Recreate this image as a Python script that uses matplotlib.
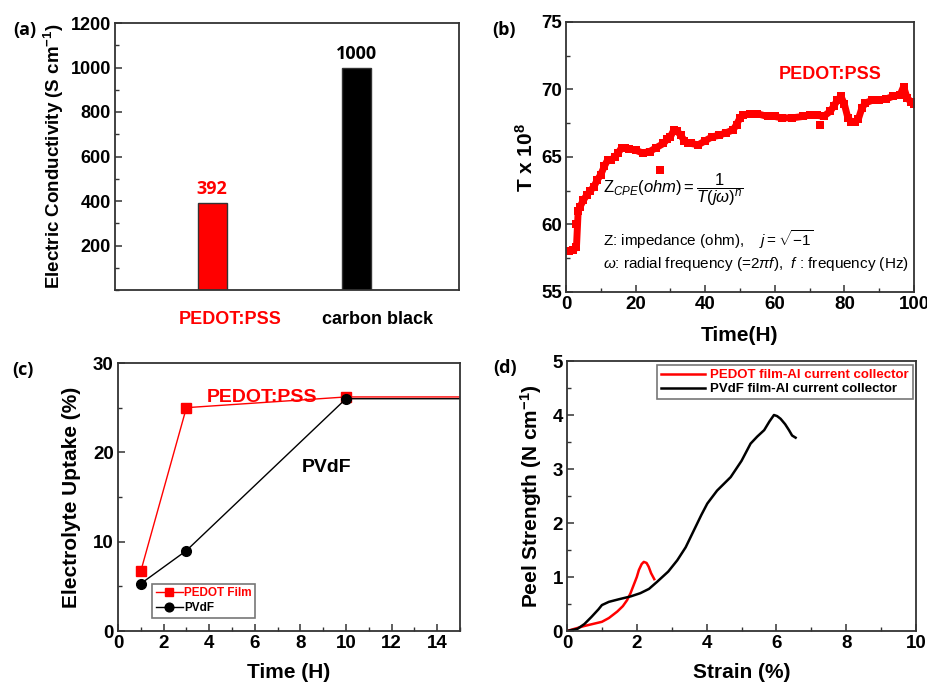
import matplotlib
matplotlib.use("Agg")
import matplotlib.pyplot as plt
from matplotlib.ticker import MultipleLocator

plt.rcParams['font.family'] = ['Liberation Sans', 'DejaVu Sans']
plt.rcParams['font.weight'] = 'bold'
plt.rcParams['axes.labelweight'] = 'bold'
plt.rcParams['mathtext.fontset'] = 'custom'
plt.rcParams['mathtext.rm'] = 'Liberation Sans:normal'
plt.rcParams['mathtext.it'] = 'Liberation Sans:italic:normal'
plt.rcParams['mathtext.bf'] = 'Liberation Sans:bold'

# (a) conductivity
materials = ["PEDOT:PSS", "carbon black"]
conductivity = [392, 1000]
bar_colors = ["#ff0000", "#000000"]

# (b) T x 10^8 vs time
time_b = [0, 1, 2, 3, 3.5, 4, 5, 6, 7, 8, 9, 10, 11, 12, 13, 14, 15, 16, 17, 18,
          20, 22, 24, 26, 28, 29, 30, 31, 32, 33, 34, 35, 36, 38, 40, 42, 44, 46,
          48, 49, 50, 51, 53, 55, 58, 60, 62, 65, 68, 70, 72, 74, 76, 77, 78, 79,
          80, 81, 82, 83, 84, 85, 86, 88, 90, 92, 94, 96, 97, 98, 99, 100]
t_b = [58.0, 58.0, 58.1, 58.3, 61.0, 61.3, 61.8, 62.2, 62.5, 62.8, 63.3, 63.7, 64.3, 64.8,
       64.8, 65.0, 65.3, 65.7, 65.7, 65.6, 65.5, 65.3, 65.4, 65.7, 66.0, 66.3, 66.5, 67.0,
       66.9, 66.6, 66.2, 66.0, 66.0, 65.9, 66.2, 66.5, 66.6, 66.8, 67.0, 67.4, 67.9, 68.1,
       68.2, 68.2, 68.0, 68.0, 67.9, 67.9, 68.0, 68.1, 68.1, 68.0, 68.4, 68.8, 69.2, 69.5,
       68.9, 67.9, 67.6, 67.6, 67.8, 68.6, 69.0, 69.2, 69.2, 69.3, 69.5, 69.6, 70.2, 69.4,
       69.1, 68.9]
time_b_out = [3, 27, 73]
t_b_out = [60.0, 64.0, 67.4]

# (c) electrolyte uptake
time_c = [1, 3, 10, 24]
uptake_pedot = [6.7, 25.0, 26.2, 26.2]
uptake_pvdf = [5.3, 9.0, 26.0, 26.0]

# (d) peel strength
strain_pvdf = [0, 0.3, 0.5, 0.7, 0.9, 1.0, 1.2, 1.5, 1.82, 2.1, 2.35, 2.58, 2.9, 3.16, 3.4,
               3.64, 3.85, 4.02, 4.3, 4.69, 5.0, 5.26, 5.45, 5.65, 5.8, 5.93, 6.02, 6.12,
               6.25, 6.36, 6.45, 6.55]
peel_pvdf = [0, 0.04, 0.13, 0.26, 0.4, 0.48, 0.54, 0.59, 0.64, 0.7, 0.78, 0.91, 1.1, 1.31,
             1.55, 1.87, 2.15, 2.36, 2.6, 2.85, 3.15, 3.47, 3.6, 3.72, 3.88, 4.0, 3.98, 3.93,
             3.83, 3.72, 3.62, 3.58]
strain_pedot = [0, 0.48, 1.0, 1.2, 1.44, 1.6, 1.72, 1.82, 1.91, 2.0, 2.06, 2.14, 2.2, 2.28,
                2.34, 2.41, 2.5]
peel_pedot = [0, 0.09, 0.17, 0.24, 0.36, 0.46, 0.57, 0.7, 0.85, 1.0, 1.13, 1.24, 1.28, 1.26,
              1.19, 1.07, 0.96]

W, H = 928, 689
fig = plt.figure(figsize=(W / 100, H / 100), dpi=100)
KFONT = ['Open Sans', 'DejaVu Sans']


def add_ax(l, t, r, b):
    return fig.add_axes([l / W, 1 - b / H, (r - l) / W, (b - t) / H])


def style(ax, xt, yt, xminor, yminor, size=13):
    for s in ax.spines.values():
        s.set_color("#333333")
        s.set_linewidth(1.3)
    if xt is None:
        ax.set_xticks([])
    else:
        ax.set_xticks(xt, labels=[str(v) for v in xt])
    ax.set_yticks(yt, labels=[str(v) for v in yt])
    if xminor:
        ax.xaxis.set_minor_locator(MultipleLocator(xminor))
    ax.yaxis.set_minor_locator(MultipleLocator(yminor))
    ax.tick_params(which="both", direction="in", top=False, right=False, color="#333333")
    ax.tick_params(which="major", length=5, width=1.1, pad=3, labelsize=size)
    ax.tick_params(which="minor", length=3, width=1.0)


# ---------- (a) ----------
ax1 = add_ax(115, 23, 459, 290)
pos = [1, 2]
ax1.bar(pos, conductivity, width=0.2, color=bar_colors, edgecolor="#333333", linewidth=1)
ax1.set_xlim(0.33, 2.705)
ax1.set_ylim(0, 1200)
style(ax1, None, [200, 400, 600, 800, 1000, 1200], None, 100, 13)
ax1.set_ylabel("Electric Conductivity (S cm$^{\\mathbf{-1}}$)", fontsize=13.5, labelpad=3)
for p, v, c in zip(pos, conductivity, bar_colors):
    ax1.text(p, v + 22, str(v), ha="center", va="bottom", color=c, fontsize=13, family=KFONT)
for p, name, c in zip([1.124, 2.139], materials, bar_colors):
    ax1.text(p, -0.11, name, transform=ax1.get_xaxis_transform(), ha="center", va="center",
             color=c, fontsize=13)
fig.text(13 / W, 1 - 30 / H, "(a)", fontsize=13, family=KFONT, va="center")

# ---------- (b) ----------
ax2 = add_ax(566, 22, 914, 292)
ax2.plot(time_b, t_b, "s", color="#ff0000", markersize=5.5, markeredgewidth=0)
ax2.plot(time_b, t_b, "-", color="#ff0000", linewidth=5)
ax2.plot(time_b_out, t_b_out, "s", color="#ff0000", markersize=5.5, markeredgewidth=0)
ax2.set_xlim(0, 100)
ax2.set_ylim(55, 75)
style(ax2, [0, 20, 40, 60, 80, 100], [55, 60, 65, 70, 75], 10, 2.5, 13.5)
ax2.set_xlabel("Time(H)", fontsize=15, labelpad=9)
ax2.set_ylabel("T x 10$^{\\mathbf{8}}$", fontsize=15, labelpad=3)
ax2.text(0.76, 0.805, "PEDOT:PSS", transform=ax2.transAxes, ha="center", va="center",
         color="#ff0000", fontsize=13)
ax2.text(0.105, 0.38, r"$\mathrm{Z}_{CPE}(ohm)=\dfrac{1}{T(j\omega)^{n}}$", transform=ax2.transAxes,
         ha="left", va="center", fontsize=12, fontweight="normal")
ax2.text(0.105, 0.195, r"Z: impedance (ohm),    $j=\sqrt{-1}$", transform=ax2.transAxes,
         ha="left", va="center", fontsize=11, fontweight="normal")
ax2.text(0.105, 0.105, r"$\omega$: radial frequency (=2$\pi f$),  $f$ : frequency (Hz)",
         transform=ax2.transAxes, ha="left", va="center", fontsize=11, fontweight="normal")
fig.text(492 / W, 1 - 30 / H, "(b)", fontsize=13, family=KFONT, va="center")

# ---------- (c) ----------
ax3 = add_ax(118, 363, 460, 631)
ax3.plot(time_c, uptake_pedot, "-s", color="#ff0000", linewidth=1, markersize=7,
         label="PEDOT Film")
ax3.plot(time_c, uptake_pvdf, "-o", color="#000000", linewidth=1, markersize=7,
         label="PVdF")
ax3.set_xlim(0, 15)
ax3.set_ylim(0, 30)
style(ax3, [0, 2, 4, 6, 8, 10, 12, 14], [0, 10, 20, 30], 1, 5, 13.5)
ax3.set_xlabel("Time (H)", fontsize=15, labelpad=8)
ax3.set_ylabel("Electrolyte Uptake (%)", fontsize=15, labelpad=9)
ax3.text(0.42, 0.87, "PEDOT:PSS", transform=ax3.transAxes, ha="center", va="center",
         color="#ff0000", fontsize=14)
ax3.text(0.61, 0.61, "PVdF", transform=ax3.transAxes, ha="center", va="center",
         color="#000000", fontsize=14)
leg = ax3.legend(loc="lower left", bbox_to_anchor=(0.1, 0.05),
                 prop={"weight": "bold", "size": 8.5}, frameon=True, fancybox=False,
                 handlelength=2.3, handletextpad=0.1, borderpad=0.3, labelspacing=0.25,
                 borderaxespad=0, markerscale=0.9)
leg.get_frame().set_edgecolor("#555555")
leg.get_frame().set_linewidth(1.2)
for txt, c in zip(leg.get_texts(), ["#ff0000", "#000000"]):
    txt.set_color(c)
fig.text(12 / W, 1 - 370 / H, "(c)", fontsize=13, family=KFONT, va="center")

# ---------- (d) ----------
ax4 = add_ax(567, 361, 916, 631)
ax4.plot(strain_pedot, peel_pedot, "-", color="#ff0000", linewidth=1.8,
         label="PEDOT film-Al current collector")
ax4.plot(strain_pvdf, peel_pvdf, "-", color="#000000", linewidth=1.8,
         label="PVdF film-Al current collector")
ax4.set_xlim(0, 10)
ax4.set_ylim(0, 5)
style(ax4, [0, 2, 4, 6, 8, 10], [0, 1, 2, 3, 4, 5], 1, 0.5, 13.5)
ax4.set_xlabel("Strain (%)", fontsize=15, labelpad=8)
ax4.set_ylabel("Peel Strength (N cm$^{\\mathbf{-1}}$)", fontsize=15, labelpad=6)
leg2 = ax4.legend(loc="upper right", bbox_to_anchor=(0.99, 0.985), prop={"weight": "bold", "size": 9.5},
                  frameon=True, fancybox=False, handlelength=3.3, handletextpad=0.4,
                  borderpad=0.3, labelspacing=0.15, borderaxespad=0)
leg2.get_frame().set_edgecolor("#555555")
leg2.get_frame().set_linewidth(1.2)
for txt, c in zip(leg2.get_texts(), ["#ff0000", "#000000"]):
    txt.set_color(c)
fig.text(493 / W, 1 - 368 / H, "(d)", fontsize=13, family=KFONT, va="center")

fig.savefig("out.png", dpi=100)
